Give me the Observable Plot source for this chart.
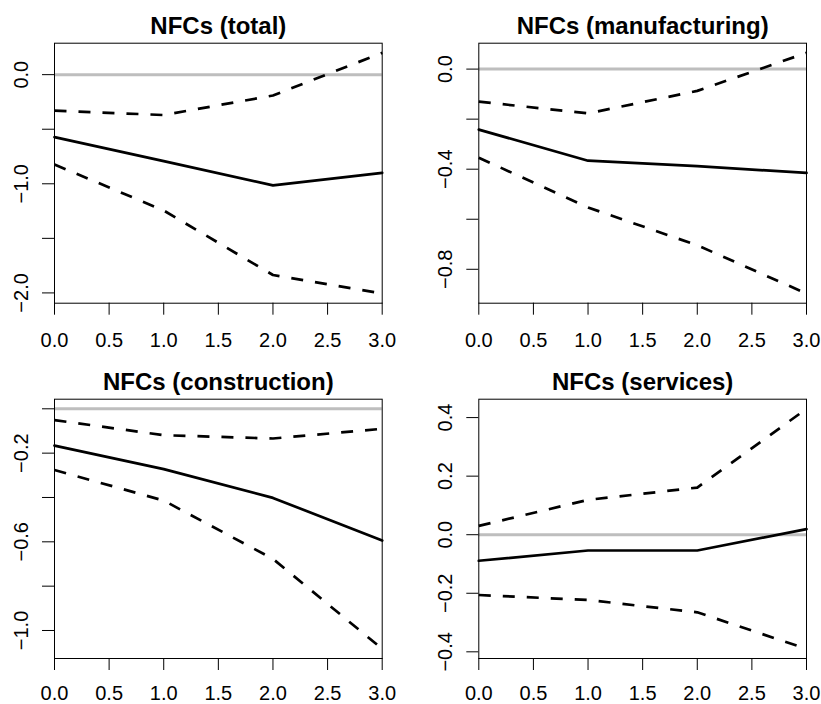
<!DOCTYPE html>
<html>
<head>
<meta charset="utf-8">
<script src="https://cdn.jsdelivr.net/npm/d3@7"></script>
<script src="https://cdn.jsdelivr.net/npm/@observablehq/plot@0.6"></script>
<style>
  html, body { margin: 0; padding: 0; background: #fff; }
  #grid { display: grid; grid-template-columns: 410px 411px; grid-template-rows: 352px 352px; width: 821px; height: 704px; }
  #grid svg { display: block; }
</style>
</head>
<body>
<div id="grid"></div>
<script>
// Horizons (x axis)
const horizons = [0, 1, 2, 3];
const xTicks = [0, 0.5, 1, 1.5, 2, 2.5, 3];

// Panel titles
const titles = ["NFCs (total)", "NFCs (manufacturing)", "NFCs (construction)", "NFCs (services)"];

// Point estimates (solid) and confidence bands (dashed)
const totalMid   = [-0.573, -0.792, -1.014, -0.900];
const totalUpper = [-0.330, -0.370, -0.191,  0.200];
const totalLower = [-0.823, -1.245, -1.836, -2.006];

const manufMid   = [-0.242, -0.366, -0.388, -0.415];
const manufUpper = [-0.130, -0.177, -0.087,  0.065];
const manufLower = [-0.354, -0.553, -0.704, -0.897];

const constrMid   = [-0.166, -0.272, -0.402, -0.594];
const constrUpper = [-0.051, -0.119, -0.134, -0.090];
const constrLower = [-0.276, -0.414, -0.677, -1.083];

const servMid   = [-0.089, -0.054, -0.054,  0.019];
const servUpper = [ 0.030,  0.119,  0.161,  0.430];
const servLower = [-0.206, -0.223, -0.265, -0.390];

// Y ticks and their labels ("" = tick without label)
const totalYTicks  = [0, -0.5, -1, -1.5, -2];
const totalYLabels = ["0.0", "", "\u22121.0", "", "\u22122.0"];
const manufYTicks  = [0, -0.2, -0.4, -0.6, -0.8];
const manufYLabels = ["0.0", "", "\u22120.4", "", "\u22120.8"];
const constrYTicks  = [0, -0.2, -0.4, -0.6, -0.8, -1.0];
const constrYLabels = ["", "\u22120.2", "", "\u22120.6", "", "\u22121.0"];
const servYTicks  = [0.4, 0.2, 0, -0.2, -0.4];
const servYLabels = ["0.4", "0.2", "0.0", "\u22120.2", "\u22120.4"];

const xFmt = d3.format(".1f");

const panels = [
  {title: titles[0], mid: totalMid, up: totalUpper, lo: totalLower, yt: totalYTicks, yl: totalYLabels,
   w: 410, ml: 54, mr: 28.3, mt: 42.7, mb: 49.3, xpad: 17.8},
  {title: titles[1], mid: manufMid, up: manufUpper, lo: manufLower, yt: manufYTicks, yl: manufYLabels,
   w: 411, ml: 68.3, mr: 15, mt: 42.7, mb: 49.3, xpad: 17.8},
  {title: titles[2], mid: constrMid, up: constrUpper, lo: constrLower, yt: constrYTicks, yl: constrYLabels,
   w: 410, ml: 54, mr: 28.3, mt: 46.7, mb: 46, xpad: 15.5},
  {title: titles[3], mid: servMid, up: servUpper, lo: servLower, yt: servYTicks, yl: servYLabels,
   w: 411, ml: 68.3, mr: 15, mt: 46.7, mb: 46, xpad: 15.5}
];

const grid = document.getElementById("grid");
const FONT = "'Liberation Sans', Arial, Helvetica, sans-serif";

for (const p of panels) {
  const rows = horizons.map((h, i) => ({h, mid: p.mid[i], up: p.up[i], lo: p.lo[i]}));
  const all = [...p.mid, ...p.up, ...p.lo, 0];
  const [mn, mx] = d3.extent(all);
  const pad = (mx - mn) * 0.04;
  const labelOf = new Map(p.yt.map((t, i) => [t, p.yl[i]]));

  const chart = Plot.plot({
    width: p.w,
    height: 352,
    marginLeft: p.ml,
    marginRight: p.mr,
    marginTop: p.mt,
    marginBottom: p.mb,
    style: {fontFamily: FONT, fontSize: "20px", color: "black", background: "white", overflow: "visible"},
    x: {domain: [0, 3], label: null},
    y: {domain: [mn - pad, mx + pad], label: null},
    marks: [
      Plot.ruleY([0], {stroke: "#bebebe", strokeWidth: 3}),
      Plot.line(rows, {x: "h", y: "up", stroke: "black", strokeWidth: 2.7, strokeDasharray: "12,12", strokeLinecap: "butt"}),
      Plot.line(rows, {x: "h", y: "lo", stroke: "black", strokeWidth: 2.7, strokeDasharray: "12,12", strokeLinecap: "butt"}),
      Plot.line(rows, {x: "h", y: "mid", stroke: "black", strokeWidth: 2.7}),
      Plot.frame({stroke: "black", strokeWidth: 1}),
      Plot.axisX({ticks: xTicks, label: null, tickSize: 12, tickPadding: p.xpad, tickFormat: xFmt, fontSize: 20, stroke: "black"}),
      Plot.axisY({ticks: p.yt, label: null, tickSize: 12, tickPadding: 15, tickRotate: -90, tickFormat: d => labelOf.get(d) ?? "", fontSize: 20, stroke: "black"}),
      Plot.text([p.title], {frameAnchor: "top", dy: -9.4, lineAnchor: "bottom", fontWeight: "bold", fontSize: 24, fill: "black"})
    ]
  });
  grid.appendChild(chart);
}
</script>
</body>
</html>
